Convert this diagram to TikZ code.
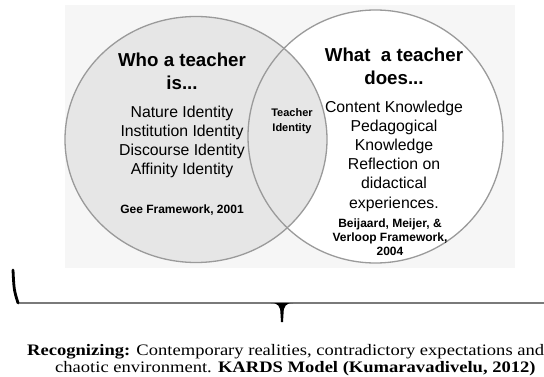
\documentclass[tikz,border=0pt]{standalone}
\usepackage{fontspec}
\setmainfont{Liberation Sans}
\newfontfamily\capfont[FakeStretch=1.16]{Liberation Serif}
\definecolor{bgray}{HTML}{F6F6F6}
\definecolor{lfill}{HTML}{E6E6E6}
\definecolor{rim}{HTML}{9A9A9A}
\definecolor{barc}{HTML}{7A7A7A}
\tikzset{
  head/.style={font=\bfseries\fontsize{18.7}{23}\selectfont, align=center, inner sep=0pt},
  body/.style={font=\fontsize{15.8}{19.2}\selectfont, align=center, inner sep=0pt},
  cite/.style={font=\bfseries\fontsize{12}{14}\selectfont, align=center, inner sep=0pt},
  mid/.style={font=\bfseries\fontsize{11}{15}\selectfont, align=center, inner sep=0pt},
  captxt/.style={font=\capfont\fontsize{16}{18}\selectfont, anchor=west, inner sep=0pt},
  rimline/.style={draw=rim, line width=1.3pt},
}
\begin{document}
\begin{tikzpicture}[x=1pt,y=-1pt]
\useasboundingbox (0,0) rectangle (544,377);
\fill[white] (0,0) rectangle (544,377);
% background panel
\fill[bgray] (65,5) rectangle (515,268);
% circles
\fill[white] (375.5,136.5) ellipse [x radius=127.5pt, y radius=126.5pt];
\fill[lfill] (196,139.5) ellipse [x radius=131pt, y radius=123pt];
\draw[rimline] (196,139.5) ellipse [x radius=131pt, y radius=123pt];
\draw[rimline] (375.5,136.5) ellipse [x radius=127.5pt, y radius=126.5pt];
% left texts
\node[head] (who) at (182,71.5) {Who a teacher\\is...};
\node[body] (gee) at (182,142) {Nature Identity\\Institution Identity\\Discourse Identity\\Affinity Identity};
\node[cite] (geecite) at (182,210) {Gee Framework, 2001};
% middle
\node[mid] (ti) at (292,121.5) {Teacher\\Identity};
% right texts
\node[head] (what) at (394,66.5) {What\ \ a teacher\\does...};
\node[body] (does) at (394,156) {Content Knowledge\\Pedagogical\\Knowledge\\Reflection on\\didactical\\experiences.};
\node[cite] (bmv) at (390,237) {Beijaard, Meijer, \&\\Verloop Framework,\\2004};
% brace
\coordinate (hookTop) at (13,270);
\coordinate (corner) at (18,303);
\coordinate (rightEnd) at (544,303);
\coordinate (tipL) at (271,303);
\coordinate (tipR) at (293,303);
\coordinate (tipBot) at (282,322);
\draw[barc, line width=2.6pt] (corner) -- (rightEnd);
\draw[black, line width=2.8pt, line cap=round] (hookTop) .. controls (14,290) .. (corner);
\fill[black] (tipL) .. controls (278,303) and (280.5,306) .. (280.5,314) -- (281,322) -- (283,322) -- (283.5,314) .. controls (283.5,306) and (286,303) .. (tipR) -- cycle;
% caption
\node[captxt] (rec) at (27,352) {\textbf{Recognizing:} Contemporary realities, contradictory expectations and};
\node[captxt] (chaos) at (55,369) {chaotic environment. \textbf{KARDS Model (Kumaravadivelu, 2012)}};
\end{tikzpicture}
\end{document}
